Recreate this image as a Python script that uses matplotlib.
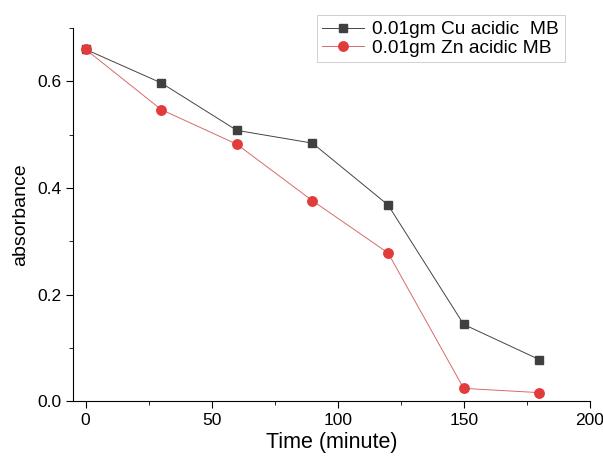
import matplotlib
matplotlib.use("Agg")
import matplotlib.pyplot as plt
from matplotlib.ticker import MultipleLocator

plt.rcParams['font.family'] = ['Liberation Sans', 'DejaVu Sans']

time = [0, 30, 60, 90, 120, 150, 180]
cu_abs = [0.66, 0.597, 0.508, 0.484, 0.368, 0.144, 0.078]
zn_abs = [0.66, 0.547, 0.482, 0.376, 0.278, 0.024, 0.016]

fig = plt.figure(figsize=(6.03, 4.59), dpi=100)
ax = fig.add_axes([0.121, 0.126, 0.857, 0.813])

ax.plot(time, cu_abs, color='#444444', lw=0.7, marker='s', ms=6.2,
        mfc='#404040', mec='#404040', label='0.01gm Cu acidic  MB')
ax.plot(time, zn_abs, color='#d86a6a', lw=0.7, marker='o', ms=6.8,
        mfc='#e23b3b', mec='#e23b3b', label='0.01gm Zn acidic MB')

ax.set_xlim(-5, 200)
ax.set_ylim(0, 0.7)
ax.xaxis.set_major_locator(MultipleLocator(50))
ax.xaxis.set_minor_locator(MultipleLocator(25))
ax.yaxis.set_major_locator(MultipleLocator(0.2))
ax.yaxis.set_minor_locator(MultipleLocator(0.1))
ax.tick_params(which='both', direction='out', labelsize=12.5)
ax.tick_params(which='major', length=5)
ax.tick_params(which='minor', length=3)
ax.spines['top'].set_visible(False)
ax.spines['right'].set_visible(False)
ax.set_xlabel('Time (minute)', fontsize=15.5, labelpad=3)
ax.set_ylabel('absorbance', fontsize=14, labelpad=6)

leg = ax.legend(loc='upper right', bbox_to_anchor=(0.97, 1.06), fontsize=13.8,
                frameon=True, fancybox=False, handlelength=2.2,
                borderpad=0.3, labelspacing=0.05, handletextpad=0.4)
leg.get_frame().set_edgecolor('#bbbbbb')
leg.get_frame().set_linewidth(0.6)

plt.savefig("out.png", dpi=100)
